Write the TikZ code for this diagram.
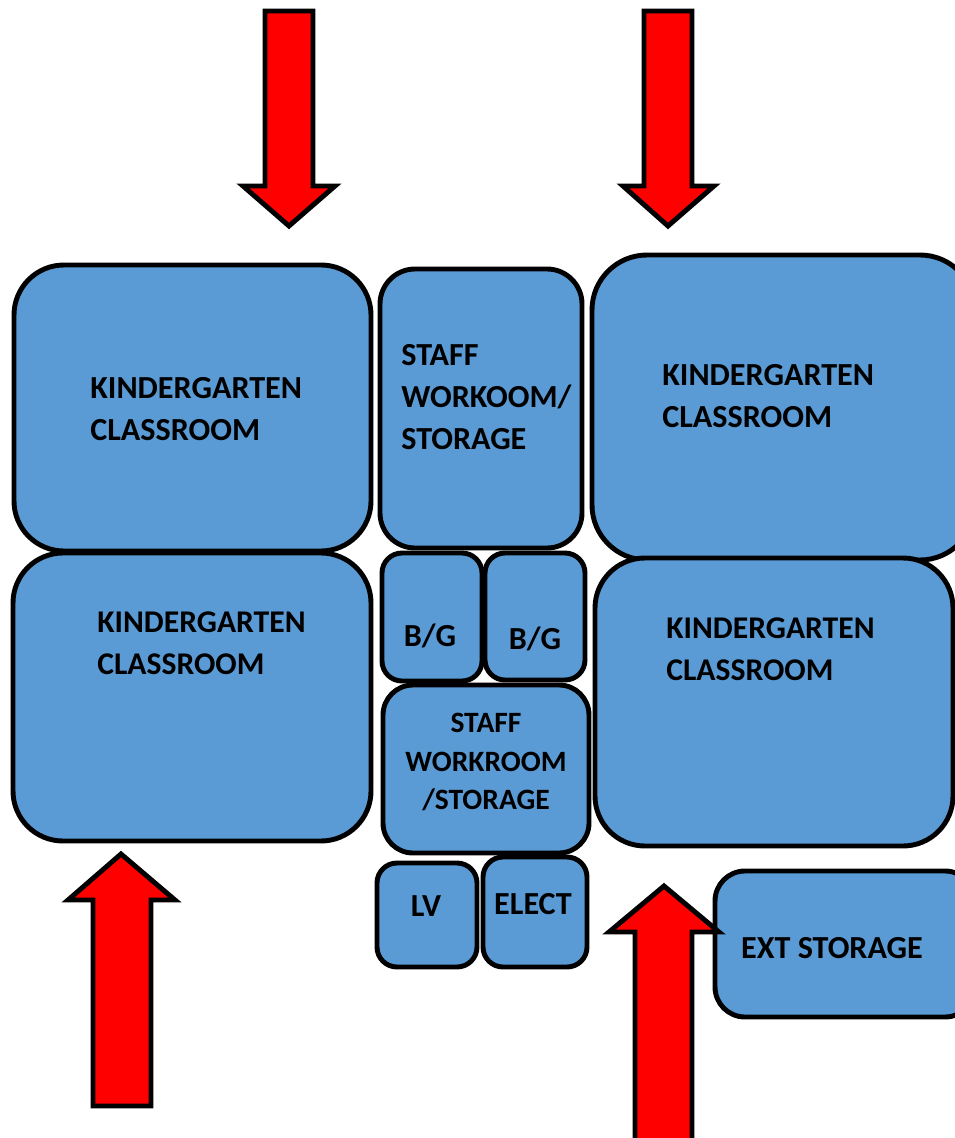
\documentclass[tikz,border=0pt]{standalone}
\usepackage{fontspec}
\setmainfont{Carlito}
\tikzset{
  room/.style={draw=black,line width=2.8pt,fill=roomblue,inner sep=0pt,outer sep=0pt},
  roomlabel/.style={font=\fontsize{18.3}{23.8}\selectfont\bfseries,text=black,inner sep=0pt,align=left},
  redarrow/.style={draw=black,line width=2.8pt,fill=red,miter limit=10}
}
\definecolor{roomblue}{RGB}{91,155,213}
\newcommand{\roomat}[6]{% name, x1, y1, x2, y2, radius
  \node[room,rounded corners=#6*0.02cm,minimum width=(#4-#2)*0.02cm,minimum height=(#5-#3)*0.02cm,anchor=north west] (#1) at (#2,#3) {};
}
\begin{document}
\begin{tikzpicture}[x=0.02cm,y=-0.02cm]
\useasboundingbox[fill=white] (0,0) rectangle (955,1138);

\begin{scope}
\clip (0,0) rectangle (955,1138);

% arrows
\draw[redarrow] (265,11) -- (313,11) -- (313,186) -- (335,186) -- (289,226) -- (243,186) -- (265,186) -- cycle;
\draw[redarrow] (644,11) -- (692,11) -- (692,186) -- (714,186) -- (668,226) -- (623,186) -- (644,186) -- cycle;
\draw[redarrow] (93,1106) -- (151,1106) -- (151,900) -- (175,900) -- (121,854) -- (68,900) -- (93,900) -- cycle;

% rooms
\roomat{kinderA}{14}{265}{371}{551}{50}
\roomat{kinderB}{13}{553}{371}{841}{50}
\roomat{staffA}{380}{269}{582}{548}{35}
\roomat{kinderC}{592}{255}{975}{560}{55}
\roomat{kinderD}{595}{558}{953}{846}{50}
\roomat{bgA}{382}{553}{482}{681}{20}
\roomat{bgB}{485}{553}{585}{680}{20}
\roomat{staffB}{383}{685}{589}{853}{30}
\roomat{lv}{377}{863}{477}{967}{20}
\roomat{elect}{483}{857}{587}{967}{20}
\roomat{extstore}{715}{871}{975}{1017}{30}

\draw[redarrow] (635,1150) -- (692,1150) -- (692,932) -- (719,932) -- (664,886) -- (609,932) -- (635,932) -- cycle;

% labels
\node[roomlabel,anchor=west] (kinderAtxt) at (90,409) {KINDERGARTEN\\CLASSROOM};
\node[roomlabel,anchor=west,font=\fontsize{18}{23.8}\selectfont\bfseries] (kinderBtxt) at (97,643) {KINDERGARTEN\\CLASSROOM};
\node[roomlabel,anchor=west] (staffAtxt) at (401,397) {STAFF\\WORKOOM/\\STORAGE};
\node[roomlabel,anchor=west] (kinderCtxt) at (662,396) {KINDERGARTEN\\CLASSROOM};
\node[roomlabel,anchor=west,font=\fontsize{18}{23.8}\selectfont\bfseries] (kinderDtxt) at (666,649) {KINDERGARTEN\\CLASSROOM};
\node[roomlabel] (bgAtxt) at (430,636) {B/G};
\node[roomlabel] (bgBtxt) at (535,639) {B/G};
\node[roomlabel,align=center,font=\fontsize{16.8}{21.8}\selectfont\bfseries] (staffBtxt) at (486,762) {STAFF\\WORKROOM\\/STORAGE};
\node[roomlabel] (lvtxt) at (426,906) {LV};
\node[roomlabel] (electtxt) at (533,904) {ELECT};
\node[roomlabel] (extstoretxt) at (832,948) {EXT STORAGE};
\end{scope}
\end{tikzpicture}
\end{document}
